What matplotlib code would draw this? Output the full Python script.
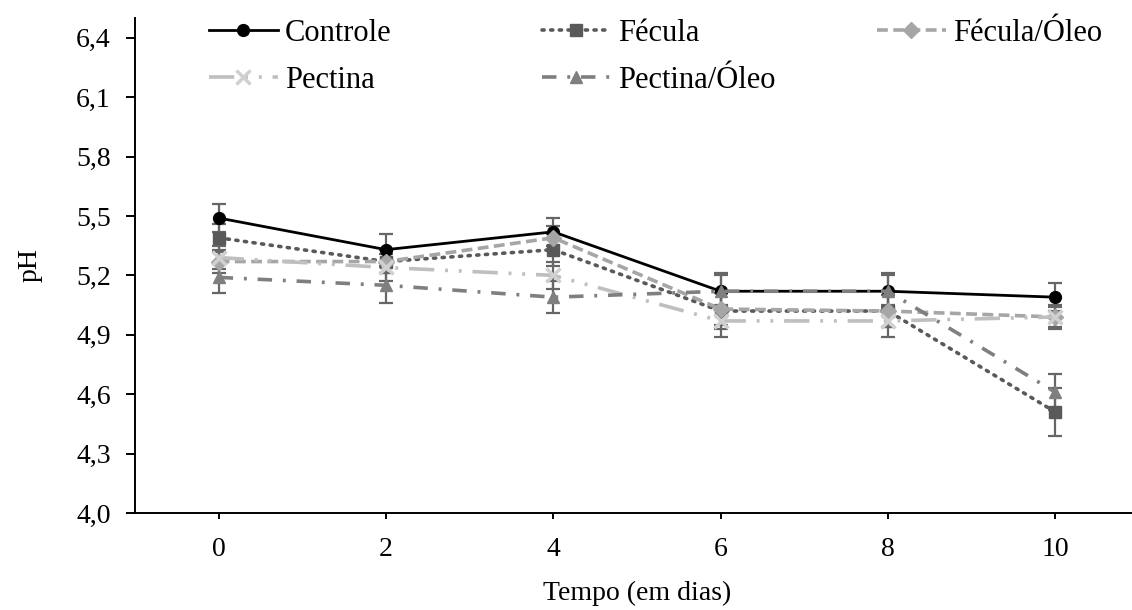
import matplotlib.pyplot as plt
import numpy as np

plt.rcParams['font.family'] = ['Liberation Serif', 'DejaVu Serif']

dias = [0, 2, 4, 6, 8, 10]

controle = [5.49, 5.33, 5.42, 5.12, 5.12, 5.09]
controle_err = [0.07, 0.08, 0.07, 0.08, 0.08, 0.07]

fecula = [5.39, 5.27, 5.33, 5.02, 5.02, 4.51]
fecula_err = [0.07, 0.06, 0.08, 0.09, 0.08, 0.12]

fecula_oleo = [5.27, 5.27, 5.39, 5.03, 5.02, 4.99]
fecula_oleo_err = [0.06, 0.06, 0.06, 0.08, 0.08, 0.05]

pectina = [5.29, 5.24, 5.20, 4.97, 4.97, 4.99]
pectina_err = [0.06, 0.07, 0.07, 0.08, 0.08, 0.06]

pectina_oleo = [5.19, 5.15, 5.09, 5.12, 5.12, 4.61]
pectina_oleo_err = [0.08, 0.09, 0.08, 0.09, 0.09, 0.09]

y_ticks = [4.0, 4.3, 4.6, 4.9, 5.2, 5.5, 5.8, 6.1, 6.4]

fig = plt.figure(figsize=(11.32, 6.10), dpi=100)
ax = fig.add_axes([135 / 1132, 97 / 610, 1004 / 1132, 495 / 610])

err_color = '#666666'
series = [
    ('Controle', controle, controle_err,
     dict(color='black', ls='-', lw=2.0, marker='o', ms=8.5, mfc='black', mec='black')),
    ('Fécula', fecula, fecula_err,
     dict(color='#595959', ls=(0, (0.6, 1.8)), lw=2.6, dash_capstyle='round',
          marker='s', ms=9, mfc='#595959', mec='#595959')),
    ('Fécula/Óleo', fecula_oleo, fecula_oleo_err,
     dict(color='#a6a6a6', ls=(0, (3, 1.5)), lw=2.6, marker='D', ms=8,
          mfc='#a6a6a6', mec='#a6a6a6')),
    ('Pectina', pectina, pectina_err,
     dict(color='#bfbfbf', ls=(0, (7, 3, 0.8, 3, 0.8, 3)), lw=2.6, marker='x', ms=10,
          mew=2.5, mfc='#d0d0d0', mec='#d0d0d0')),
    ('Pectina/Óleo', pectina_oleo, pectina_oleo_err,
     dict(color='#7f7f7f', ls=(0, (4, 3, 0.8, 3)), lw=2.6, marker='^', ms=9,
          mfc='#7f7f7f', mec='#7f7f7f')),
]

handles = []
for name, vals, errs, st in series:
    ax.errorbar(dias, vals, yerr=errs, fmt='none', ecolor=err_color,
                elinewidth=1.6, capsize=5, capthick=1.6, zorder=2)
    line, = ax.plot(dias, vals, label=name, zorder=3, **st)
    handles.append(line)

ax.set_xlim(-1, 11)
ax.set_ylim(4.0, 6.5)
ax.set_xticks(dias)
ax.set_yticks(y_ticks)
ax.set_yticklabels([f'{v:.1f}'.replace('.', ',') for v in y_ticks])

for s in ['top', 'right']:
    ax.spines[s].set_visible(False)
for s in ['left', 'bottom']:
    ax.spines[s].set_linewidth(1.4)

ax.tick_params(axis='y', direction='out', length=6.5, width=1.4, labelsize=20, pad=11)
ax.tick_params(axis='x', direction='out', length=4.5, width=1.4, labelsize=20, pad=13)

ax.set_xlabel('Tempo (em dias)', fontsize=20, labelpad=13)
ax.set_ylabel('pH', fontsize=20, labelpad=24)

leg_kw = dict(frameon=False, fontsize=22, handlelength=2.25, handletextpad=0.23,
              labelspacing=0.58, numpoints=1, borderaxespad=0, borderpad=0,
              loc='upper left')
cols = [[0, 3], [1, 4], [2]]
xs = [209, 542, 877]
for i, (c, x0) in enumerate(zip(cols, xs)):
    leg = ax.legend([handles[k] for k in c], [series[k][0] for k in c],
                    bbox_to_anchor=((x0 - 135) / 1004, (513 - 19) / 495), **leg_kw)
    if i < 2:
        ax.add_artist(leg)

fig.savefig('out.png', dpi=100)
